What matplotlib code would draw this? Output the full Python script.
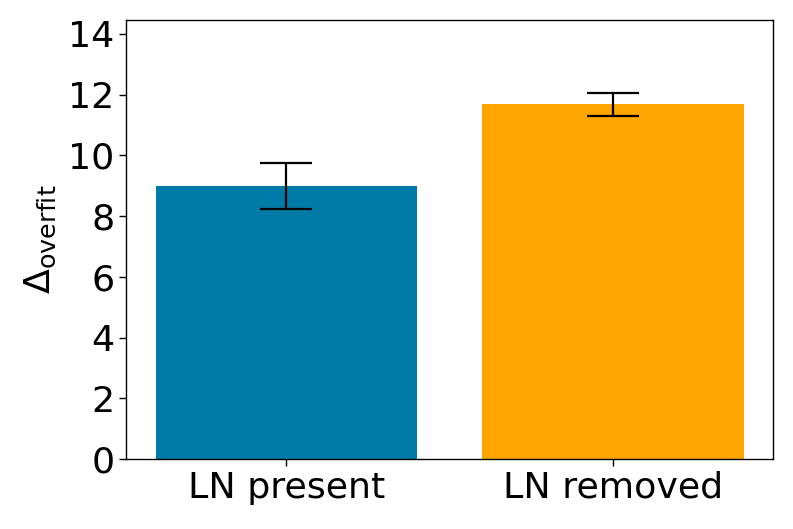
import matplotlib
matplotlib.use("Agg")
import matplotlib.pyplot as plt

categories = ["LN present", "LN removed"]
values = [8.99, 11.68]
errors = [0.76, 0.38]
colors = ["#007BA7", "#FFA500"]

fs = 26.2
fig = plt.figure(figsize=(7.93, 5.29), dpi=100)
ax = fig.add_axes([0.159, 0.1323, 0.816, 0.830])
x = range(len(categories))
ax.bar(x, values, width=0.8, color=colors, yerr=errors, capsize=18.5,
       error_kw=dict(elinewidth=1.6, capthick=1.6, ecolor="black"))
ax.set_xticks(list(x))
ax.set_xticklabels(categories, fontsize=fs)
ax.set_ylim(0, 14.46)
ax.set_yticks(range(0, 15, 2))
ax.tick_params(axis="y", labelsize=fs, length=5, width=1.0)
ax.tick_params(axis="x", length=5, width=1.0)
ax.set_ylabel(r"$\Delta_{\mathrm{overfit}}$", fontsize=fs, labelpad=7)
for s in ax.spines.values():
    s.set_linewidth(1.0)
fig.savefig("out.png", dpi=100)
